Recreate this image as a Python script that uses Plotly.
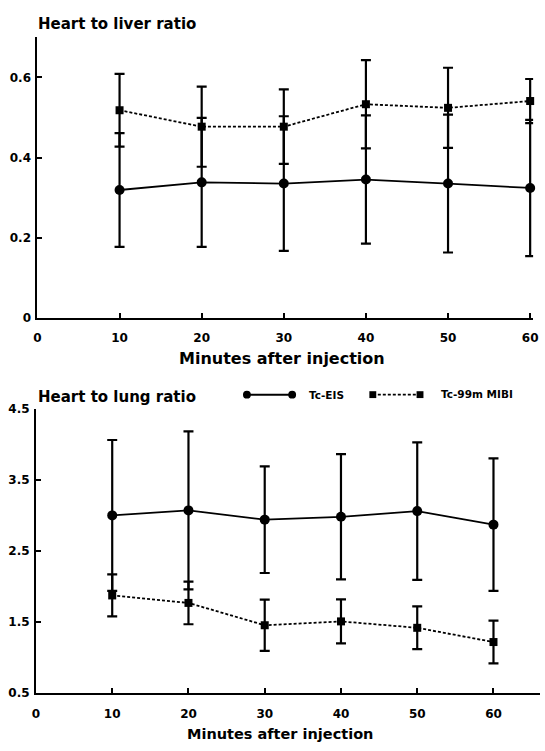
import plotly.graph_objects as go

W, H = 545, 751

minutes = [10, 20, 30, 40, 50, 60]

# Heart to liver ratio
eis_liver = [0.319, 0.338, 0.335, 0.345, 0.335, 0.324]
eis_liver_sd = [0.142, 0.161, 0.168, 0.160, 0.172, 0.170]
mibi_liver = [0.518, 0.477, 0.477, 0.533, 0.524, 0.541]
mibi_liver_sd = [0.091, 0.100, 0.093, 0.110, 0.100, 0.055]

# Heart to lung ratio
eis_lung = [3.00, 3.07, 2.94, 2.98, 3.06, 2.87]
eis_lung_sd = [1.06, 1.11, 0.75, 0.88, 0.965, 0.93]
mibi_lung = [1.875, 1.77, 1.456, 1.51, 1.42, 1.22]
mibi_lung_sd = [0.295, 0.30, 0.36, 0.31, 0.30, 0.30]

x_ticks = [0, 10, 20, 30, 40, 50, 60]
liver_ticks = [0, 0.2, 0.4, 0.6]
liver_ticklabels = ["0", "0.2", "0.4", "0.6"]
lung_ticks = [0.5, 1.5, 2.5, 3.5, 4.5]
lung_ticklabels = ["0.5", "1.5", "2.5", "3.5", "4.5"]

FONT = "DejaVu Sans, sans-serif"


def px(x):
    return x / W


def py(y):
    return 1 - y / H


fig = go.Figure()


def add_series(xa, ya, y, sd, symbol, size, dash):
    fig.add_trace(go.Scatter(
        x=minutes, y=y, xaxis=xa, yaxis=ya, mode="lines+markers",
        line=dict(color="black", width=1.8, dash=dash),
        marker=dict(symbol=symbol, size=size, color="black"),
        error_y=dict(type="data", array=sd, visible=True, color="black",
                     thickness=2.2, width=5),
        cliponaxis=False, showlegend=False,
    ))


add_series("x", "y", eis_liver, eis_liver_sd, "circle", 10, "solid")
add_series("x", "y", mibi_liver, mibi_liver_sd, "square", 8, "3px,2px")
add_series("x2", "y2", eis_lung, eis_lung_sd, "circle", 10, "solid")
add_series("x2", "y2", mibi_lung, mibi_lung_sd, "square", 8, "3px,2px")

axis_common = dict(showline=True, linecolor="black", linewidth=2,
                   showgrid=False, zeroline=False, ticks="inside",
                   ticklen=5, tickwidth=1.5, tickcolor="black",
                   tickfont=dict(family=FONT, size=12, color="black",
                                 weight="bold"))

fig.update_layout(
    width=W, height=H,
    margin=dict(l=0, r=0, t=0, b=0),
    paper_bgcolor="white", plot_bgcolor="white",
    xaxis=dict(domain=[px(34), px(538)], range=[0, 60.36], anchor="y",
               tickvals=x_ticks, ticklabelstandoff=8, **axis_common),
    yaxis=dict(domain=[py(316.7), py(30.9)], range=[0, 0.7], anchor="x",
               tickvals=liver_ticks, ticktext=liver_ticklabels,
               ticklabelstandoff=2, **axis_common),
    xaxis2=dict(domain=[px(32.5), px(545)], range=[0, 66.1], anchor="y2",
                tickvals=x_ticks, ticklabelstandoff=8, **axis_common),
    yaxis2=dict(domain=[py(699.3), py(409.3)], range=[0.5, 4.5], anchor="x2",
                tickvals=lung_ticks, ticktext=lung_ticklabels,
                ticklabelstandoff=2, **axis_common),
)

ann = []


def text(x, y, s, size, xanchor="left"):
    ann.append(dict(x=px(x), y=py(y), xref="paper", yref="paper", text=s,
                    showarrow=False, xanchor=xanchor, yanchor="middle",
                    font=dict(family=FONT, size=size, color="black",
                              weight="bold")))


text(33, 17, "Heart to liver ratio", 15)
text(33, 397, "Heart to lung ratio", 15)
text(283, 358, "Minutes after injection", 16, "center")
text(281, 741, "Minutes after injection", 14.5, "center")
text(308, 395, "Tc-EIS", 10.5)
text(442, 394, "Tc-99m MIBI", 10.5)
fig.update_layout(annotations=ann)

shapes = []
# legend: Tc-EIS
shapes.append(dict(type="line", xref="paper", yref="paper",
                   x0=px(247), x1=px(293), y0=py(395), y1=py(395),
                   line=dict(color="black", width=2)))
for cx in (247, 293):
    shapes.append(dict(type="circle", xref="paper", yref="paper",
                       x0=px(cx - 4), x1=px(cx + 4), y0=py(399), y1=py(391),
                       fillcolor="black", line=dict(color="black", width=0)))
# legend: Tc-99m MIBI
shapes.append(dict(type="line", xref="paper", yref="paper",
                   x0=px(375), x1=px(423), y0=py(395), y1=py(395),
                   line=dict(color="black", width=1.8, dash="3px,2px")))
for cx in (375, 423):
    shapes.append(dict(type="rect", xref="paper", yref="paper",
                       x0=px(cx - 3.5), x1=px(cx + 3.5), y0=py(398.5), y1=py(391.5),
                       fillcolor="black", line=dict(color="black", width=0)))
fig.update_layout(shapes=shapes)

fig.write_html("out.html")
